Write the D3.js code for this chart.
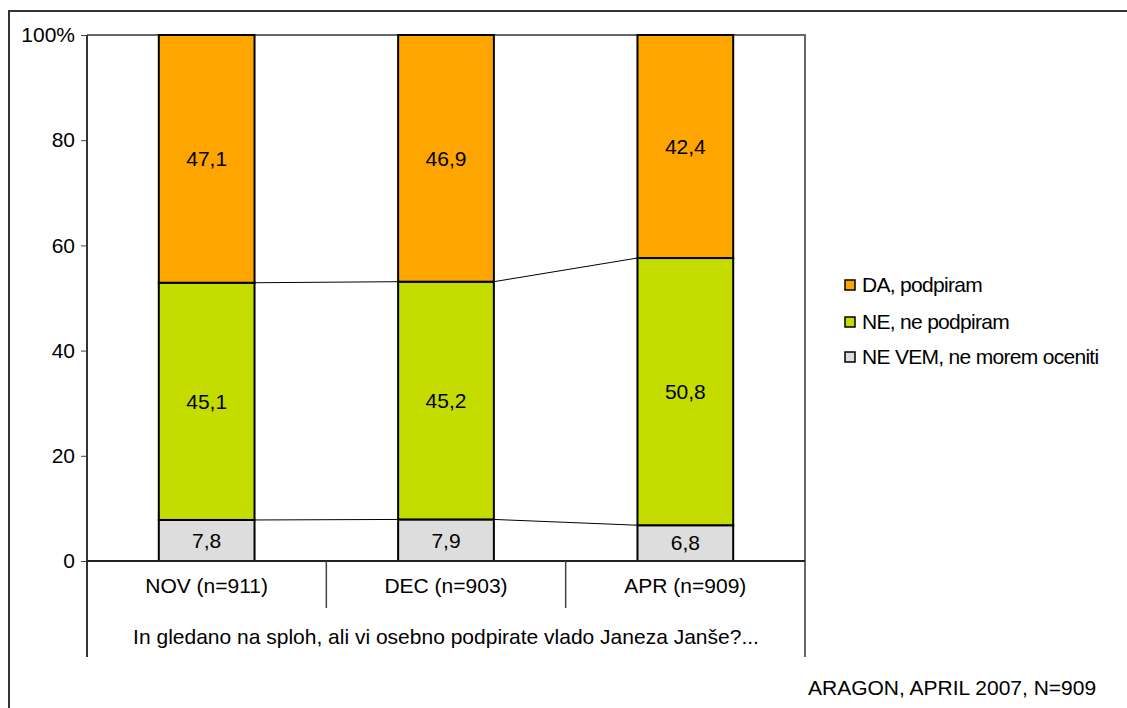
<!DOCTYPE html>
<html>
<head>
<meta charset="utf-8">
<script src="https://cdn.jsdelivr.net/npm/d3@7"></script>
<style>
  body { margin: 0; background: #fff; }
  text { font-family: "Liberation Sans", Arial, sans-serif; fill: #000; }
</style>
</head>
<body>
<div id="container"></div>
<script>
// data
const categories = ["NOV (n=911)", "DEC (n=903)", "APR (n=909)"];
const seriesNames = ["NE VEM, ne morem oceniti", "NE, ne podpiram", "DA, podpiram"];
const neVem = [7.8, 7.9, 6.8];
const ne = [45.1, 45.2, 50.8];
const da = [47.1, 46.9, 42.4];
const yTicks = [0, 20, 40, 60, 80, 100];
const legendOrder = ["DA, podpiram", "NE, ne podpiram", "NE VEM, ne morem oceniti"];
const question = "In gledano na sploh, ali vi osebno podpirate vlado Janeza Janše?...";
const source = "ARAGON, APRIL 2007, N=909";

const width = 1127, height = 708;
const margin = { top: 35, left: 87, right: 322, bottom: 147 };
const fontSize = "21px";
const colors = {
  "DA, podpiram": "#FFA500",
  "NE, ne podpiram": "#C4DC00",
  "NE VEM, ne morem oceniti": "#DDDDDD"
};

const rows = categories.map((c, i) => ({
  cat: c,
  "NE VEM, ne morem oceniti": neVem[i],
  "NE, ne podpiram": ne[i],
  "DA, podpiram": da[i]
}));

const svg = d3.select("#container").append("svg")
  .attr("width", width)
  .attr("height", height);

// outer chart border (only left/top visible)
svg.append("path")
  .attr("d", `M9,${height} V11 H${width}`)
  .attr("fill", "none")
  .attr("stroke", "#333")
  .attr("stroke-width", 2);

const x0 = margin.left, x1 = width - margin.right;
const yTop = margin.top;

const xScale = d3.scaleBand()
  .domain(categories)
  .range([x0, x1])
  .paddingInner(0.6)
  .paddingOuter(0.3);

const yScale = d3.scaleLinear()
  .domain([0, 100])
  .range([561, yTop]);

// plot frame top + right
svg.append("path")
  .attr("d", `M${x0},${yTop} H${x1} V657`)
  .attr("fill", "none")
  .attr("stroke", "#666")
  .attr("stroke-width", 2);

// y axis
const yAxis = d3.axisLeft(yScale)
  .tickValues(yTicks)
  .tickSize(6)
  .tickPadding(6)
  .tickFormat(d => d === 100 ? "100%" : d);
const yAxisGroup = svg.append("g")
  .attr("transform", `translate(${x0},0)`)
  .call(yAxis);
yAxisGroup.select(".domain").remove();
yAxisGroup.selectAll(".tick line").attr("stroke", "#444");
yAxisGroup.selectAll(".tick text")
  .style("font-size", fontSize)
  .attr("font-family", null);

svg.append("line")
  .attr("x1", x0).attr("x2", x0)
  .attr("y1", yTop).attr("y2", 657)
  .attr("stroke", "#333").attr("stroke-width", 2);

// stacked bars
const stack = d3.stack().keys(seriesNames);
const stacked = stack(rows);

const layers = svg.selectAll("g.layer")
  .data(stacked)
  .join("g")
  .attr("class", "layer")
  .attr("fill", d => colors[d.key]);

layers.selectAll("rect")
  .data(d => d)
  .join("rect")
  .attr("x", d => xScale(d.data.cat))
  .attr("y", d => yScale(d[1]))
  .attr("width", xScale.bandwidth())
  .attr("height", d => yScale(d[0]) - yScale(d[1]))
  .attr("stroke", "#000")
  .attr("stroke-width", 2);

// series lines between bars
stacked.slice(0, 2).forEach(layer => {
  for (let i = 0; i < layer.length - 1; i++) {
    svg.append("line")
      .attr("x1", xScale(categories[i]) + xScale.bandwidth())
      .attr("y1", yScale(layer[i][1]))
      .attr("x2", xScale(categories[i + 1]))
      .attr("y2", yScale(layer[i + 1][1]))
      .attr("stroke", "#000")
      .attr("stroke-width", 1);
  }
});

// value labels
layers.selectAll("text")
  .data(d => d)
  .join("text")
  .attr("x", d => xScale(d.data.cat) + xScale.bandwidth() / 2)
  .attr("y", d => yScale((d[0] + d[1]) / 2))
  .attr("dy", "0.35em")
  .attr("text-anchor", "middle")
  .style("font-size", fontSize)
  .style("fill", "#000")
  .text(d => String(+(d[1] - d[0]).toFixed(1)).replace(".", ","));

// zero line
svg.append("line")
  .attr("x1", x0).attr("x2", x1)
  .attr("y1", yScale(0)).attr("y2", yScale(0))
  .attr("stroke", "#222").attr("stroke-width", 2);

// category separators
const step = xScale.step();
categories.forEach((c, i) => {
  if (i > 0) {
    const xs = x0 + step * i;
    svg.append("line")
      .attr("x1", xs).attr("x2", xs)
      .attr("y1", yScale(0)).attr("y2", 608)
      .attr("stroke", "#444").attr("stroke-width", 1.5);
  }
});

svg.selectAll("text.cat")
  .data(categories)
  .join("text")
  .attr("class", "cat")
  .attr("x", d => xScale(d) + xScale.bandwidth() / 2)
  .attr("y", 586)
  .attr("dy", "0.35em")
  .attr("text-anchor", "middle")
  .style("font-size", fontSize)
  .text(d => d);

svg.append("text")
  .attr("x", (x0 + x1) / 2)
  .attr("y", 637)
  .attr("dy", "0.35em")
  .attr("text-anchor", "middle")
  .style("font-size", fontSize)
  .text(question);

// legend
const legendY = [285, 322, 357];
const legend = svg.selectAll("g.legend")
  .data(legendOrder)
  .join("g")
  .attr("class", "legend")
  .attr("transform", (d, i) => `translate(845,${legendY[i]})`);
legend.append("rect")
  .attr("x", 0).attr("y", -5)
  .attr("width", 10).attr("height", 10)
  .attr("fill", d => colors[d])
  .attr("stroke", "#000")
  .attr("stroke-width", 1.5);
legend.append("text")
  .attr("x", 17)
  .attr("dy", "0.35em")
  .style("font-size", fontSize)
  .style("letter-spacing", "-0.7px")
  .text(d => d);

// source
svg.append("text")
  .attr("x", 808)
  .attr("y", 695)
  .style("font-size", fontSize)
  .text(source);
</script>
</body>
</html>
